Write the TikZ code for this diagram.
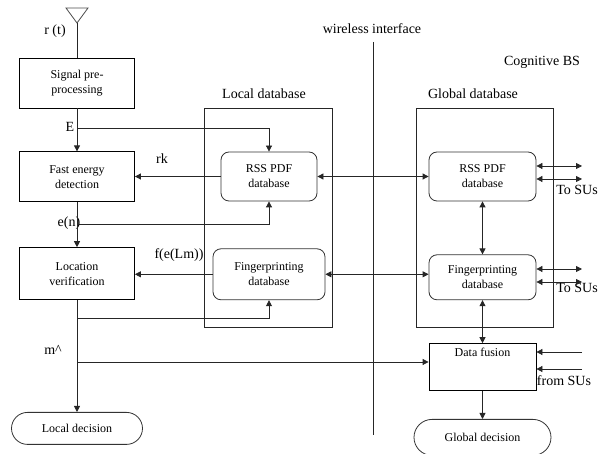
\documentclass[tikz,border=0pt]{standalone}
\usepackage{fontspec}
\setmainfont{Liberation Serif}
\usepackage{tikz}
\usetikzlibrary{arrows.meta, positioning, calc}

\begin{document}
\begin{tikzpicture}[
        x=1pt, y=-1pt,
        node distance=43pt,
        box/.style={rectangle, draw=black, line width=0.8pt, minimum width=115pt, minimum height=50pt, align=center, font=\fontsize{12}{15}\selectfont, fill=white},
        dbbox/.style={rectangle, draw=black!80, line width=0.8pt, rounded corners=8pt, minimum width=107pt, minimum height=49pt, align=center, font=\fontsize{12}{15}\selectfont, fill=white},
        frame/.style={rectangle, draw=black!85, line width=0.8pt},
        decision/.style={rectangle, draw=black!80, line width=0.8pt, rounded corners=16pt, minimum width=131pt, minimum height=32pt, font=\fontsize{12}{15}\selectfont},
        lbl/.style={font=\fontsize{14}{16}\selectfont, inner sep=1pt},
        arrow/.style={-{Triangle[length=6pt,width=6pt]}, line width=0.8pt, black!85},
        darrow/.style={{Triangle[length=6pt,width=6pt]}-{Triangle[length=6pt,width=6pt]}, line width=0.8pt, black!85}
    ]
    \useasboundingbox (0,0) rectangle (606,454);

    % Frames
    \node[frame, minimum width=128pt, minimum height=219pt] (localdb) at (268,217.5) {};
    \node[frame, minimum width=137pt, minimum height=219pt] (globaldb) at (484.5,217.5) {};

    % Nodes
    \node[box] (signal) at (77,83) {Signal pre-\\processing};
    \node[box, below=of signal] (fast) {Fast energy\\detection};
    \node[box, below=45pt of fast, minimum height=52pt] (locver) {Location\\verification};
    \node[decision, below=112pt of locver] (localdec) {Local decision};

    \node[dbbox, minimum width=96pt] (rsslocal) at (269,176.5) {RSS PDF\\database};
    \node[dbbox, minimum width=112pt, minimum height=51pt, below=47pt of rsslocal] (fplocal) {Fingerprinting\\database};

    \node[dbbox] (rssglobal) at (482.5,176.5) {RSS PDF\\database};
    \node[dbbox, minimum height=45pt, below=53pt of rssglobal] (fpglobal) {Fingerprinting\\database};
    \node[box, minimum width=107pt, minimum height=47pt, below=of fpglobal,
          label={[font=\fontsize{12}{15}\selectfont, anchor=north, inner sep=5pt]north:Data fusion}] (datafusion) {};
    \node[decision, minimum width=137pt, minimum height=36pt, rounded corners=18pt, below=28pt of datafusion] (globaldec) {Global decision};

    % Labels
    \node[lbl] (rt) at (55,31) {r (t)};
    \node[lbl] (elbl) at (70,127) {E};
    \node[lbl] (rklbl) at (162,159) {rk};
    \node[lbl] (enlbl) at (69,223) {e(n)};
    \node[lbl] (flbl) at (179,255) {f(e(Lm))};
    \node[lbl] (mlbl) at (53,350) {m\textasciicircum};
    \node[lbl] (localtitle) at (264,94) {Local database};
    \node[lbl] (globaltitle) at (473,94) {Global database};
    \node[lbl] (wtitle) at (372,29) {wireless interface};
    \node[lbl] (cbs) at (542,62) {Cognitive BS};
    \node[lbl] (tosu1) at (577,190) {To SUs};
    \node[lbl] (tosu2) at (577,288) {To SUs};
    \node[lbl] (fromsu) at (564,381) {from SUs};

    % Antenna
    \coordinate (ant) at (77,23);
    \draw[line width=0.8pt, black!70] (66,8) -- (88,8) -- (ant) -- cycle;
    \draw[line width=0.8pt, black!85] (ant) -- (signal);

    % Wireless interface
    \coordinate (wtop) at (373,42);
    \coordinate (wbot) at (373,435);
    \draw[line width=0.8pt, black!85] (wtop) -- (wbot);

    % Branch points
    \coordinate (ejoin) at (77,128);
    \coordinate (njoin) at (77,224);
    \coordinate (vjoin) at (77,318);
    \coordinate (mjoin) at (77,362);

    % Free ends towards the SUs
    \coordinate (su1) at (582,166);
    \coordinate (su2) at (582,179);
    \coordinate (su3) at (582,269);
    \coordinate (su4) at (582,282);
    \coordinate (su5) at (582,352);
    \coordinate (su6) at (582,369);

    % Arrows
    \draw[arrow] (signal) -- (fast);
    \draw[arrow] (ejoin) -| (rsslocal.north);
    \draw[arrow] (rsslocal.west) -- (rsslocal.west -| fast.east);
    \draw[arrow] (fast) -- (locver);
    \draw[arrow] (njoin) -| (rsslocal.south);
    \draw[arrow] (fplocal.west) -- (fplocal.west -| locver.east);
    \draw[arrow] (locver) -- (localdec);
    \draw[arrow] (vjoin) -| (fplocal.south);
    \draw[arrow] (mjoin) -- (mjoin -| datafusion.west);

    \draw[darrow] (rsslocal.east) -- (rssglobal.west);
    \draw[darrow] (fplocal.east) -- (fplocal.east -| fpglobal.west);
    \draw[darrow] (rssglobal) -- (fpglobal);
    \draw[darrow] (fpglobal) -- (datafusion);
    \draw[arrow] (datafusion) -- (globaldec);

    \draw[darrow] (su1 -| rssglobal.east) -- (su1);
    \draw[darrow] (su2 -| rssglobal.east) -- (su2);
    \draw[darrow] (su3 -| fpglobal.east) -- (su3);
    \draw[darrow] (su4 -| fpglobal.east) -- (su4);
    \draw[arrow] (su5) -- (su5 -| datafusion.east);
    \draw[arrow] (su6) -- (su6 -| datafusion.east);

\end{tikzpicture}
\end{document}
